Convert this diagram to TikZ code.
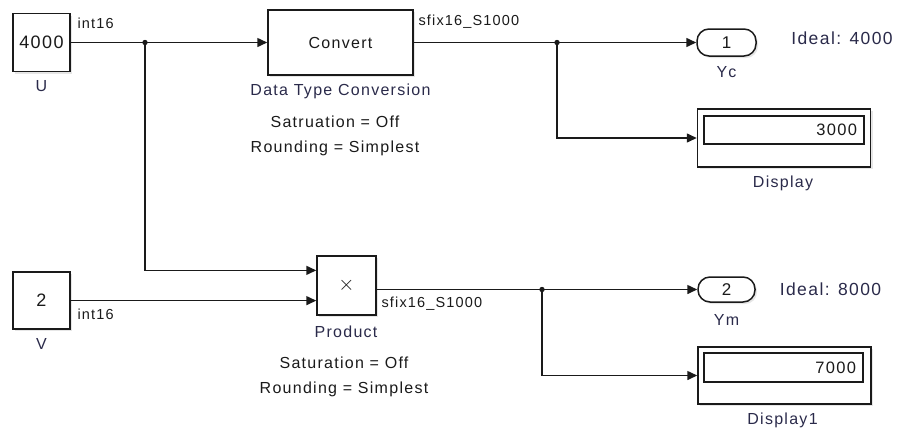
\documentclass[tikz,border=0pt]{standalone}
\usepackage{fontspec}
\setmainfont{Liberation Sans}
\newfontfamily\blkfont{Liberation Sans}[LetterSpace=8]
\usepackage{tikz}
\usetikzlibrary{arrows.meta,calc,shadows}
\definecolor{blackmain}{HTML}{1A1A1A}
\definecolor{labelink}{HTML}{2A2A4A}
\definecolor{shadowgray}{HTML}{9A9A9A}
\tikzset{every node/.append style={font=\blkfont\fontsize{16}{18}\selectfont,text=blackmain}}
\tikzset{
  blk/.style={draw=blackmain,line width=1.5pt,fill=white,inner sep=0pt,
    drop shadow={shadow xshift=2pt,shadow yshift=-2pt,opacity=.25,fill=shadowgray}},
  outport/.style={blk,rounded corners=12pt},
  sig/.style={draw=blackmain,line width=1.5pt,-{Triangle[length=10pt,width=9pt]}},
  blkname/.style={text=labelink},
  sigtype/.style={text=blackmain,font=\blkfont\fontsize{14.5}{16}\selectfont},
}

\begin{document}
\begin{tikzpicture}[x=1pt,y=-1pt]
  \useasboundingbox (0,0) rectangle (901,429);
  % conversion and product
  \node[blk,minimum width=145pt,minimum height=65pt] (conv) at (340.5,42.5) {Convert};
  \node[blkname] (convname) at (340.5,91) {Data Type Conversion};
  \node[align=center,font=\blkfont\fontsize{16}{25}\selectfont] (convset) at (335,136)
    {Satruation = Off\\Rounding = Simplest};
  \node[blk,minimum width=59pt,minimum height=59pt] (prod) at (346.5,285.5)
    {\fontsize{20}{20}\selectfont$\times$};
  \node[blkname] (prodname) at (346,332) {Product};
  \node[align=center,font=\blkfont\fontsize{16}{25}\selectfont] (prodset) at (344,377)
    {Saturation = Off\\Rounding = Simplest};
  \coordinate (pin1) at ($(prod.north west)!.25!(prod.south west)$);
  \coordinate (pin2) at ($(prod.north west)!.75!(prod.south west)$);
  % sources
  \node[blk,minimum width=57pt,minimum height=58pt] (U) at (41.5,0 |- conv.west)
    {\fontsize{18}{18}\selectfont 4000};
  \node[blkname] (Uname) at (41.5,86) {U};
  \node[blk,minimum width=57pt,minimum height=57pt] (V) at (41.5,0 |- pin2)
    {\fontsize{18}{18}\selectfont 2};
  \node[blkname] (Vname) at (41.5,344) {V};
  % outports and displays
  \node[outport,minimum width=59pt,minimum height=27pt] (Yc) at (726.5,42.5)
    {\fontsize{17}{18}\selectfont 1};
  \node[blkname] (Ycname) at (726.5,72) {Yc};
  \node[labelink,font=\blkfont\fontsize{17.5}{18}\selectfont] (idealc) at (842,38) {Ideal: 4000};
  \node[blk,minimum width=173pt,minimum height=58pt] (disp) at (784,138) {};
  \node[draw=blackmain,line width=1.2pt,minimum width=160pt,minimum height=28pt,inner sep=0pt]
    (dispv) at (784,130) {};
  \node[anchor=east] (dispval) at ($(dispv.east)+(-4pt,0)$) {\fontsize{16.5}{18}\selectfont 3000};
  \node[blkname] (dispname) at (783,183) {Display};
  \node[outport,minimum width=57pt,minimum height=25pt] (Ym) at (726.5,289.5)
    {\fontsize{17}{18}\selectfont 2};
  \node[blkname] (Ymname) at (726.5,320) {Ym};
  \node[labelink,font=\blkfont\fontsize{17.5}{18}\selectfont] (idealm) at (830.5,289) {Ideal: 8000};
  \node[blk,minimum width=173pt,minimum height=57pt] (disp1) at (784.5,375.5) {};
  \node[draw=blackmain,line width=1.2pt,minimum width=159pt,minimum height=29pt,inner sep=0pt]
    (disp1v) at (783.5,367.5) {};
  \node[anchor=east] (disp1val) at ($(disp1v.east)+(-4pt,0)$) {\fontsize{16.5}{18}\selectfont 7000};
  \node[blkname] (disp1name) at (782.5,420) {Display1};
  % signals
  \coordinate (b1) at (145,0 |- U.east);
  \coordinate (b2) at (557,0 |- conv.east);
  \coordinate (b3) at (542,0 |- Ym.west);
  \draw[sig] (U.east) -- (conv.west);
  \draw[sig] (b1) |- (pin1);
  \draw[sig] (V.east) -- (pin2);
  \draw[sig] (conv.east) -- (Yc.west);
  \draw[sig] (b2) |- (disp.west);
  \draw[sig] (prod.east |- Ym.west) -- (Ym.west);
  \draw[sig] (b3) |- (disp1.west);
  \foreach \bb in {b1,b2,b3} {
    \fill[blackmain] (\bb) circle (2.7pt);
  }
  \node[sigtype,anchor=west] (tU) at (74,23) {int16};
  \node[sigtype,anchor=west] (tV) at (74,314) {int16};
  \node[sigtype,anchor=west] (tconv) at (415,22) {sfix16\_S1000};
  \node[sigtype,anchor=west] (tprod) at (378,304) {sfix16\_S1000};
\end{tikzpicture}
\end{document}
